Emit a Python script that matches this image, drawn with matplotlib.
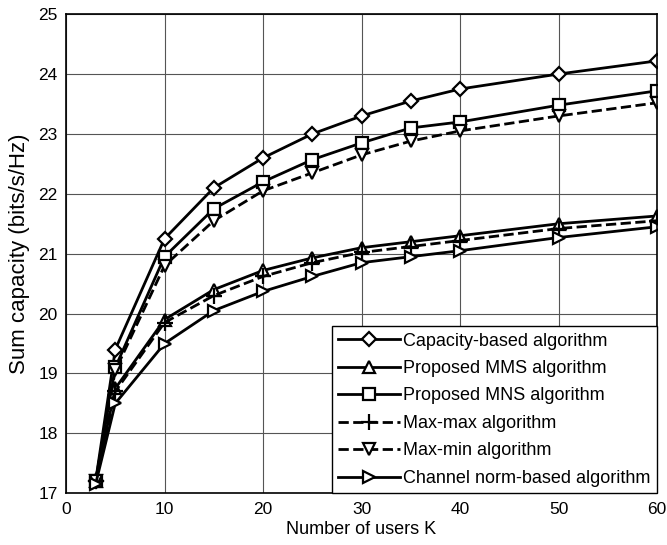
import matplotlib
matplotlib.use("Agg")
import matplotlib.pyplot as plt

plt.rcParams["font.family"] = ["Liberation Sans", "DejaVu Sans"]

users = [3, 5, 10, 15, 20, 25, 30, 35, 40, 50, 60]

capacity_based = [17.2, 19.4, 21.25, 22.1, 22.6, 23.0, 23.3, 23.55, 23.75, 24.0, 24.22]
proposed_mms   = [17.2, 18.75, 19.9, 20.4, 20.72, 20.93, 21.1, 21.2, 21.3, 21.5, 21.63]
proposed_mns   = [17.2, 19.1, 20.95, 21.75, 22.2, 22.57, 22.85, 23.1, 23.2, 23.48, 23.72]
max_max        = [17.2, 18.7, 19.85, 20.3, 20.62, 20.85, 21.02, 21.12, 21.22, 21.42, 21.55]
max_min        = [17.2, 19.05, 20.8, 21.55, 22.05, 22.35, 22.65, 22.88, 23.05, 23.3, 23.52]
channel_norm   = [17.15, 18.5, 19.5, 20.05, 20.37, 20.62, 20.85, 20.95, 21.05, 21.27, 21.45]

labels = ["Capacity-based algorithm", "Proposed MMS algorithm", "Proposed MNS algorithm",
          "Max-max algorithm", "Max-min algorithm", "Channel norm-based algorithm"]

fig = plt.figure(figsize=(6.67, 5.45), dpi=100)
ax = fig.add_axes([0.099, 0.095, 0.886, 0.879])

style = dict(color="black", lw=2.0, ms=9, mfc="white", mew=1.6)
ax.plot(users, capacity_based, "-", marker="D", label=labels[0], **{**style, "ms": 7.5})
ax.plot(users, proposed_mms, "-", marker="^", label=labels[1], **style)
ax.plot(users, proposed_mns, "-", marker="s", label=labels[2], **{**style, "ms": 8.5})
ax.plot(users, max_max, "--", marker="+", label=labels[3], **{**style, "ms": 11})
ax.plot(users, max_min, "--", marker="v", label=labels[4], **style)
ax.plot(users, channel_norm, "-", marker=">", label=labels[5], **style)

ax.set_xlim(0, 60)
ax.set_ylim(17, 25)
ax.set_xticks(range(0, 61, 10))
ax.set_yticks(range(17, 26))
ax.grid(True, color="#555555", lw=0.8)
ax.tick_params(labelsize=12.5, direction="in", length=0, pad=6)
for s in ax.spines.values():
    s.set_linewidth(1.2)

ax.set_xlabel("Number of users K", fontsize=13, labelpad=3)
ax.set_ylabel("Sum capacity (bits/s/Hz)", fontsize=16, labelpad=6)

leg = ax.legend(loc="lower right", fontsize=13, frameon=True, fancybox=False,
                edgecolor="black", framealpha=1, handlelength=3.4, borderaxespad=0,
                labelspacing=0.58, handletextpad=0.2, borderpad=0.35)
leg.get_frame().set_linewidth(1.0)

fig.savefig("out.png", dpi=100)
